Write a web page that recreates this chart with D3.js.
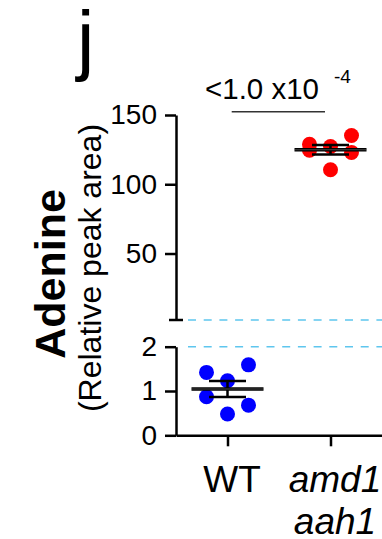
<!DOCTYPE html>
<html lang="en">
  <head>
    <meta charset="utf-8" />
    <title>Adenine</title>
    <script src="https://cdn.jsdelivr.net/npm/d3@7"></script>
    <style>
      body { margin: 0; background: #fff; }
      svg text { font-family: Arial, "Liberation Sans", sans-serif; fill: #000; }
    </style>
  </head>
  <body>
    <div id="chart"></div>
    <script type="text/javascript">
      // data
      const groups = ["WT", "amd1 aah1"];
      const wtValues = [1.42, 0.87, 1.23, 0.48, 1.59, 0.68];
      const mutValues = [128.9, 124.6, 127.3, 110.5, 135.2, 123.0];
      const groupColors = ["#0000ff", "#ff0000"];
      const lowTicks = [0, 1, 2];
      const highTicks = [50, 100, 150];
      const pLabel = "<1.0 x10";
      const pExp = "-4";

      // scatter columns for each point (left / middle / right)
      const column = [-1, -1, 0, 0, 1, 1];

      const width = 382, height = 539;
      const svg = d3.select("#chart").append("svg")
        .attr("width", width).attr("height", height);

      const x = d3.scalePoint().domain(groups).range([176, 382]).padding(0.5);
      const yLow = d3.scaleLinear().domain([0, 2]).range([435.3, 346.7]);
      const yHigh = d3.scaleLinear().domain([2, 150]).range([320, 115]);

      function yOf(v) { return v <= 2 ? yLow(v) : yHigh(v); }

      // dashed break lines
      [yHigh(2), yLow(2)].forEach(yy => {
        svg.append("line")
          .attr("x1", 188).attr("x2", width)
          .attr("y1", yy).attr("y2", yy)
          .attr("stroke", "#5ec6ee").attr("stroke-width", 1.5)
          .attr("stroke-dasharray", "8,7.7");
      });

      // axes
      function styleAxis(g) {
        g.select(".domain").attr("stroke", "#000").attr("stroke-width", 2.5);
        g.selectAll(".tick line").attr("stroke", "#000").attr("stroke-width", 2.5);
        g.selectAll(".tick text").attr("font-size", 28).attr("fill", "#000");
      }

      svg.append("g").attr("transform", "translate(176,0)")
        .call(d3.axisLeft(yLow).tickValues(lowTicks).tickFormat(d3.format("d"))
          .tickSize(11).tickSizeOuter(0).tickPadding(8))
        .call(styleAxis);

      svg.append("g").attr("transform", "translate(176,0)")
        .call(d3.axisLeft(yHigh).tickValues(highTicks).tickFormat(d3.format("d"))
          .tickSize(11).tickSizeOuter(0).tickPadding(8))
        .call(styleAxis);

      // break mark at the foot of the upper segment
      svg.append("line")
        .attr("x1", 169).attr("x2", 183)
        .attr("y1", yHigh(2)).attr("y2", yHigh(2))
        .attr("stroke", "#000").attr("stroke-width", 2.5);

      svg.append("g").attr("transform", `translate(0,${yLow(0)})`)
        .call(d3.axisBottom(x).tickSize(11).tickSizeOuter(0).tickFormat(""))
        .call(styleAxis);

      // group labels
      const lab = svg.append("g");
      lab.append("text").attr("x", x("WT") + 4.5).attr("y", 491.7)
        .attr("text-anchor", "middle").attr("font-size", 37).text("WT");
      const mt = lab.append("text").attr("text-anchor", "middle")
        .attr("font-size", 37).attr("font-style", "italic");
      mt.append("tspan").attr("x", x("amd1 aah1") + 4.5).attr("y", 491.7).text("amd1");
      mt.append("tspan").attr("x", x("amd1 aah1") + 4.5).attr("y", 534).text("aah1");

      // points, mean and SEM
      const colGap = 21;
      [wtValues, mutValues].forEach((vals, gi) => {
        const cx = x(groups[gi]);
        svg.append("g").selectAll("circle").data(vals).join("circle")
          .attr("cx", (d, i) => cx + column[i] * colGap)
          .attr("cy", d => yOf(d))
          .attr("r", 7.5)
          .attr("fill", groupColors[gi]);

        const m = d3.mean(vals);
        const sem = d3.deviation(vals) / Math.sqrt(vals.length);
        const g = svg.append("g").attr("stroke", "#000");
        g.append("line").attr("x1", cx).attr("x2", cx)
          .attr("y1", yOf(m + sem)).attr("y2", yOf(m - sem)).attr("stroke-width", 2.5);
        [m + sem, m - sem].forEach(v => {
          g.append("line").attr("x1", cx - 18.5).attr("x2", cx + 18.5)
            .attr("y1", yOf(v)).attr("y2", yOf(v)).attr("stroke-width", 2.5);
        });
        g.append("line").attr("x1", cx - 36).attr("x2", cx + 36)
          .attr("y1", yOf(m)).attr("y2", yOf(m)).attr("stroke-width", 3.5);
        g.append("line").attr("x1", cx - 36).attr("x2", cx + 36)
          .attr("y1", yOf(m)).attr("y2", yOf(m))
          .attr("stroke", "#888").attr("stroke-width", 1).attr("stroke-dasharray", "1,1");
      });

      // significance
      svg.append("line")
        .attr("x1", 231.7).attr("x2", 325).attr("y1", 111.7).attr("y2", 111.7)
        .attr("stroke", "#333").attr("stroke-width", 1.5);
      svg.append("text").attr("x", 205).attr("y", 99).attr("font-size", 29.5).text(pLabel);
      svg.append("text").attr("x", 334).attr("y", 83).attr("font-size", 19).text(pExp);

      // axis titles
      svg.append("text")
        .attr("transform", "translate(65,274) rotate(-90)")
        .attr("text-anchor", "middle").attr("font-size", 43).attr("font-weight", "bold")
        .text("Adenine");
      svg.append("text")
        .attr("transform", "translate(101,268) rotate(-90)")
        .attr("text-anchor", "middle").attr("font-size", 32)
        .text("(Relative peak area)");

      // panel letter
      svg.append("text").attr("x", 77).attr("y", 66).attr("font-size", 78).text("j");
    </script>
  </body>
</html>
